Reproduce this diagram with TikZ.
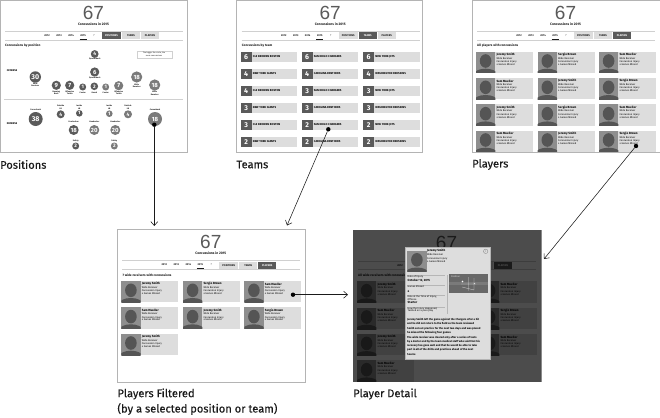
\documentclass[tikz,border=0pt]{standalone}
\usepackage{fontspec}
\setmainfont{Fira Sans}
\newfontfamily\numfont{Liberation Sans}
\newfontfamily\capfont[FakeBold=0.35]{Fira Sans}
\usetikzlibrary{arrows.meta}
\definecolor{ink}{HTML}{1A1A1A}
\definecolor{dk}{HTML}{5A5A5A}
\definecolor{mid}{HTML}{7A7A7A}
\definecolor{lite}{HTML}{DDDDDD}
\definecolor{edge}{HTML}{B4B4B4}
\definecolor{rul}{HTML}{D0D0D0}
\definecolor{avbg}{HTML}{8E8E8E}
\definecolor{avfg}{HTML}{555555}
\tikzset{
  x=1pt,y=-1pt,
  panel/.style={draw=edge,line width=.9pt,fill=white,anchor=north west,inner sep=0,outer sep=0},
  captxt/.style={anchor=west,inner sep=0,font=\capfont\fontsize{11.1}{14}\selectfont,text=ink},
  tinyt/.style={anchor=west,inner sep=0,text=black,font=\fontsize{2.5}{3}\selectfont},
  tinyb/.style={anchor=west,inner sep=0,text=black,font=\fontsize{3}{3.5}\selectfont\bfseries},
  tinyc/.style={anchor=center,inner sep=0,text=ink,align=center,font=\fontsize{2}{2.4}\selectfont\bfseries},
  tabt/.style={anchor=center,inner sep=0,font=\fontsize{2.6}{3}\selectfont\bfseries},
  posc/.style={circle,inner sep=0,text=white,font=\fontsize{#1}{#1}\selectfont\bfseries},
  dotn/.style={circle,fill=black,inner sep=0,minimum size=4.4pt},
  flow/.style={draw=ink,line width=.55pt,-{Straight Barb[length=4pt,width=7pt]}},
}
\newcommand{\hdr}[4]{%
  \node[anchor=center,inner sep=0,text=dk,font=\numfont\fontsize{19}{19}\selectfont] (#1n) at (93.5,13) {67};
  \node[anchor=center,inner sep=0,text=ink,font=\fontsize{3.4}{4}\selectfont\bfseries] (#1s) at (93.5,23.7) {Concussions in 2015};
  \draw[rul,line width=.7pt] (5,31.5)--(183,31.5) (5,40)--(183,40);
  \foreach \xx/\yr in {47/2012,59/2013,71/2014,83/2015}{\node[tabt,text=ink] at (\xx,35.5){\yr};}
  \draw[ink,line width=.3pt] (79.5,38.7)--(86.5,38.7);
  \node[tabt,text=mid] at (94,35.5){?};
  \fill[#2] (102,32.5) rectangle (121,39.5);
  \fill[#3] (122,32.5) rectangle (140,39.5);
  \fill[#4] (141,32.5) rectangle (159,39.5);
}
\newcommand{\tabrow}[3]{%
  \node[tabt,text=#1] at (111.5,36){POSITIONS};
  \node[tabt,text=#2] at (131,36){TEAMS};
  \node[tabt,text=#3] at (150,36){PLAYERS};
}
\newcommand{\sect}[1]{\node[anchor=west,inner sep=0,text=ink,font=\fontsize{3.2}{4}\selectfont\bfseries] at (5,45.7){#1};}
\newcommand{\avatar}[2]{%
  \begin{scope}[shift={(#1,#2)}]
  \fill[avbg] (0,0) rectangle (19.3,21.3);
  \begin{scope}
  \clip (0,0) rectangle (19.3,21.3);
  \fill[avfg] (9.6,9.3) ellipse [x radius=5.8,y radius=6.8];
  \fill[avfg] (9.6,22.5) ellipse [x radius=11.5,y radius=5.5];
  \end{scope}
  \end{scope}}
\newcommand{\card}[3]{%
  \fill[lite] (#1,#2) rectangle ++(56.8,21.3);
  \avatar{#1}{#2}
  \begin{scope}[shift={(#1,#2)}]
  \node[tinyb] at (20.3,3){#3};
  \node[tinyt] at (20.3,6.5){Wide Receiver};
  \node[tinyt] at (20.3,10){Concussion Injury};
  \node[tinyt] at (20.3,12.7){4 Games Missed};
  \end{scope}}
\newcommand{\team}[3]{%
  \fill[lite] (#1,#2) rectangle ++(56.3,10.4);
  \fill[dk] (#1,#2) rectangle ++(11,10.4);
  \begin{scope}[shift={(#1,#2)}]
  \node[anchor=center,inner sep=0,text=white,font=\fontsize{7}{7}\selectfont\bfseries] at (5.5,5.2){#3};
  \end{scope}}
\newcommand{\tname}[3]{\node[anchor=west,inner sep=0,text=black,font=\fontsize{2.8}{3}\selectfont\bfseries] at (#1,#2){#3};}
\newcommand{\posn}[6]{%
  \fill[#6] (#1,#2) circle (#3);
  \node[posc=#4] at (#1,#2){#5};}
\newcommand{\cardsFiltered}{%
  \card{4}{51.7}{Jeremy Smith}
  \card{65.7}{51.7}{Sergio Brown}
  \card{127}{51.7}{Sam Mueller}
  \card{4}{78}{Sam Mueller}
  \card{65.7}{78}{Jeremy Smith}
  \card{127}{78}{Sergio Brown}
  \card{4}{104.4}{Jeremy Smith}}
\begin{document}
\begin{tikzpicture}
\useasboundingbox (0,0) rectangle (660,417);
\fill[white] (0,0) rectangle (660,417);

% ---------- Positions
\node[panel,minimum width=187.5pt,minimum height=152pt] (pPos) at (0,0) {};
\begin{scope}
\clip (0,0) rectangle (187.5,152);
\hdr{a}{dk}{lite}{lite}\tabrow{white}{ink}{ink}
\sect{Concussions by position}
\node[draw=rul,line width=.3pt,fill=white,anchor=north west,minimum width=35pt,minimum height=6.7pt,inner sep=0] at (136.5,51) {};
\node[anchor=center,inner sep=0,text=ink,font=\fontsize{2}{2.6}\selectfont,align=center] at (154,54.3){The bigger the circle, the\\more concussions};
\node[anchor=center,inner sep=0,text=black,font=\fontsize{2.6}{3}\selectfont\bfseries] at (12,70.7){OFFENSE};
\node[anchor=center,inner sep=0,text=black,font=\fontsize{2.6}{3}\selectfont\bfseries] at (12,123.7){DEFENSE};
\draw[rul,line width=.7pt] (4,99.4)--(183,99.4);
\posn{94.7}{54}{3.9}{5}{4}{dk}
\posn{94.7}{72}{4.6}{6}{6}{dk}
\posn{35.3}{77}{5.7}{7}{30}{dk}
\posn{136.7}{77}{5.6}{6}{18}{mid}
\posn{154.7}{85}{5.6}{6}{18}{mid}
\posn{56.3}{85.3}{4.6}{6}{9}{dk}
\posn{69.7}{85.3}{4.6}{6}{7}{dk}
\posn{82.7}{87}{3.5}{5}{1}{dk}
\posn{94.3}{86.3}{3.8}{5}{2}{dk}
\posn{105.7}{87}{3.5}{5}{1}{mid}
\posn{118.7}{85.7}{4.6}{6}{7}{mid}
\posn{35.7}{119}{7}{7}{38}{dk}
\posn{60.7}{114.3}{4}{5}{4}{dk}
\posn{79.3}{113.3}{3.3}{5}{1}{dk}
\posn{109.3}{113.7}{3.3}{5}{1}{mid}
\posn{128}{114.3}{4}{5}{4}{mid}
\posn{155}{119}{7}{6}{18}{mid}
\posn{73.7}{130}{5}{6}{18}{dk}
\posn{94.3}{130}{5}{6}{20}{mid}
\posn{115.3}{130}{5}{6}{20}{mid}
\posn{75.7}{146}{3.5}{5}{2}{dk}
\posn{114.3}{146}{3.5}{5}{2}{mid}
\foreach \xx/\yy/\lab in {94.7/59/Quarterback,94.7/78/Quarterback,35.3/85/{Wide\\Receiver},136.7/85.8/{Wide\\Receiver},154.7/93.3/{Wide\\Receiver},56.3/92.8/{Running\\Back},69.7/92.8/{Offensive\\Tackle},82.7/92.5/Center,94.3/92.5/Guard,105.7/92.5/Center,118.7/92.8/{Offensive\\Tackle},35.7/110/Cornerback,60.7/107/{Outside\\LB},79.3/107/{Inside\\LB},109.3/107/{Inside\\LB},128/107/{Outside\\LB},155/110/Cornerback,73.7/122/Linebacker,94.3/122/Linebacker,115.3/122/Linebacker,75.7/141/Safety,114.3/141/Safety}{
  \node[tinyc] at (\xx,\yy){\lab};}
\end{scope}
\draw[edge,line width=.9pt] (0,0) rectangle (187.5,152);

% ---------- Teams
\node[panel,minimum width=186pt,minimum height=152pt] (pTeams) at (236.7,0) {};
\begin{scope}[shift={(236.7,0)}]
\clip (0,0) rectangle (186,152);
\hdr{b}{lite}{dk}{lite}\tabrow{ink}{white}{ink}
\sect{Concussions by team}
\foreach \yy/\ca/\cb/\cc/\na/\nb/\nc in {
  51.7/6/6/6/CLE BROWNS BOSTON/SAN DIEGO CHARGERS/NEW YORK JETS,
  68.7/4/4/4/NEW YORK GIANTS/CAROLINA PANTHERS/WASHINGTON REDSKINS,
  85.7/4/3/3/CLE BROWNS BOSTON/SAN DIEGO CHARGERS/NEW YORK JETS,
  102.7/3/3/3/NEW YORK GIANTS/CAROLINA PANTHERS/WASHINGTON REDSKINS,
  119.7/3/2/2/CLE BROWNS BOSTON/SAN DIEGO CHARGERS/NEW YORK JETS,
  136.7/2/2/2/NEW YORK GIANTS/CAROLINA PANTHERS/WASHINGTON REDSKINS}{
  \team{4}{\yy}{\ca}\team{65}{\yy}{\cb}\team{126.5}{\yy}{\cc}
  \pgfmathsetmacro{\ym}{\yy+5.2}
  \tname{16}{\ym}{\na}\tname{77}{\ym}{\nb}\tname{138.5}{\ym}{\nc}}
\end{scope}
\draw[edge,line width=.9pt] (236.7,0) rectangle ++(186,152);

% ---------- Players
\node[panel,minimum width=188pt,minimum height=152pt] (pPlayers) at (472,0) {};
\begin{scope}[shift={(472,0)}]
\clip (0,0) rectangle (188,152);
\hdr{c}{lite}{lite}{dk}\tabrow{ink}{ink}{white}
\sect{All players with concussions}
\card{4}{51.7}{Jeremy Smith}\card{65.7}{51.7}{Sergio Brown}\card{127}{51.7}{Sam Mueller}
\card{4}{78}{Sam Mueller}\card{65.7}{78}{Jeremy Smith}\card{127}{78}{Sergio Brown}
\card{4}{104.4}{Jeremy Smith}\card{65.7}{104.4}{Sergio Brown}\card{127}{104.4}{Sam Mueller}
\card{4}{130.7}{Sam Mueller}\card{65.7}{130.7}{Jeremy Smith}\card{127}{130.7}{Sergio Brown}
\end{scope}
\draw[edge,line width=.9pt] (472,0) rectangle (660,152);

% ---------- Players Filtered
\node[panel,minimum width=188pt,minimum height=153pt] (pFilt) at (117.3,229.3) {};
\begin{scope}[shift={(117.3,229.3)}]
\hdr{d}{lite}{lite}{dk}\tabrow{ink}{ink}{white}
\sect{7 wide receivers with concussions}
\cardsFiltered
\end{scope}
\draw[edge,line width=.9pt] (117.3,229.3) rectangle ++(188,153);

% ---------- Player Detail
\node[panel,draw=none,minimum width=188.5pt,minimum height=152.5pt] (pDet) at (353,229.7) {};
\begin{scope}[shift={(353,229.7)}]
\clip (0,0) rectangle (188.5,152.5);
\hdr{e}{lite}{lite}{dk}\tabrow{ink}{ink}{white}
\sect{All wide receivers with concussions}
\card{4}{51.7}{Jeremy Smith}\card{65.7}{51.7}{Sergio Brown}\card{127}{51.7}{Sam Mueller}
\card{4}{78}{Sam Mueller}\card{65.7}{78}{Jeremy Smith}\card{127}{78}{Sergio Brown}
\card{4}{104.4}{Jeremy Smith}\card{65.7}{104.4}{Sergio Brown}\card{127}{104.4}{Sam Mueller}
\card{4}{130.7}{Sam Mueller}
\fill[black,opacity=.7] (0,0) rectangle (188.5,152.5);
\end{scope}
% modal
\node[anchor=north west,draw=edge,line width=.8pt,fill=lite,minimum width=84.7pt,minimum height=111.7pt,inner sep=0] (modal) at (405,247.3) {};
\avatar{407.3}{250.5}
\draw[mid,line width=.3pt] (485.7,251.3) circle (2.2);
\node[anchor=center,inner sep=0,text=mid,font=\fontsize{3}{3}\selectfont] at (485.7,251.3){×};
\node[tinyb] at (427,250.4){Jeremy Smith};
\node[tinyt] at (427,254.8){Wide Receiver};
\node[tinyt] at (427,258.6){Concussion Injury};
\node[tinyt] at (427,261.8){4 Games Missed};
\draw[rul!70!mid,line width=.4pt] (407,275)--(445,275) (407,285.3)--(445,285.3) (407,295)--(445,295) (407,306.7)--(445,306.7) (447.3,275)--(447.3,314);
\node[tinyt] at (407.5,277){Date of Injury};
\node[tinyb] at (407.5,280.3){October 12, 2015};
\node[tinyt] at (407.5,287){Games Missed};
\node[tinyb] at (407.5,291){4};
\node[tinyt] at (407.5,297){Role at the Time of Injury,};
\node[tinyt] at (407.5,299.6){Offense};
\node[tinyb] at (407.5,302.7){Starter};
\node[tinyt] at (407.5,308.4){How the Injury Happened,};
\node[tinyt] at (407.5,311.2){Tackled on a pass play};
\fill[mid!85!black] (449.3,274.3) rectangle (487.7,292.7);
\fill[mid] (449.3,282.3) rectangle (487.7,285);
\draw[rul,line width=.25pt] (468.5,277)--(468.5,290.5) (461,284)--(476,284) (474,278)--(474,290) (462,287)--(474,290);
\fill[white] (462.5,281.5) circle (.8);
\fill[lite] (474.5,283.5) circle (.6);
\node[anchor=west,inner sep=0,text=lite,font=\fontsize{2.4}{3}\selectfont] at (451,276.6){Position};
\foreach \yy/\lab in {
 319.3/Jeremy Smith left the game against the Chargers after a hit,
 323.7/and he did not return to the field as the team reviewed,
 328.3/Smith sat out practice for the next two days and was placed,
 332.7/he missed the following four games,
 337.3/The wide receiver was cleared only after a series of tests,
 341.7/by a doctor and by the team medical staff who said that his,
 346/recovery has gone well and that he would be able to take,
 350.2/part in all of the drills and practices ahead of the next,
 354.4/Source}{
 \node[anchor=west,inner sep=0,text=black,font=\fontsize{2.7}{3}\selectfont\bfseries] at (407,\yy){\lab};}

% ---------- captions
\node[captxt] (cPos) at (0,164.5){Positions};
\node[captxt] (cTeams) at (236.3,164.5){Teams};
\node[captxt] (cPlayers) at (472,164.5){Players};
\node[captxt] (cFilt1) at (117.3,394){Players Filtered};
\node[captxt] (cFilt2) at (117.3,409){(by a selected position or team)};
\node[captxt] (cDet) at (353,394){Player Detail};

% ---------- connectors
\node[dotn] (d1) at (154.3,124.7){};
\node[dotn] (d2) at (328.3,129.3){};
\node[dotn] (d3) at (636,146){};
\node[dotn] (d4) at (293,294.7){};
\coordinate (t1) at (154.3,226);
\coordinate (t2) at (287,225.5);
\coordinate (t3) at (544,259);
\coordinate (t4) at (348,294.7);
\draw[flow] (d1)--(t1);
\draw[flow] (d2)--(t2);
\draw[flow] (d3)--(t3);
\draw[flow] (d4)--(t4);
\end{tikzpicture}
\end{document}
